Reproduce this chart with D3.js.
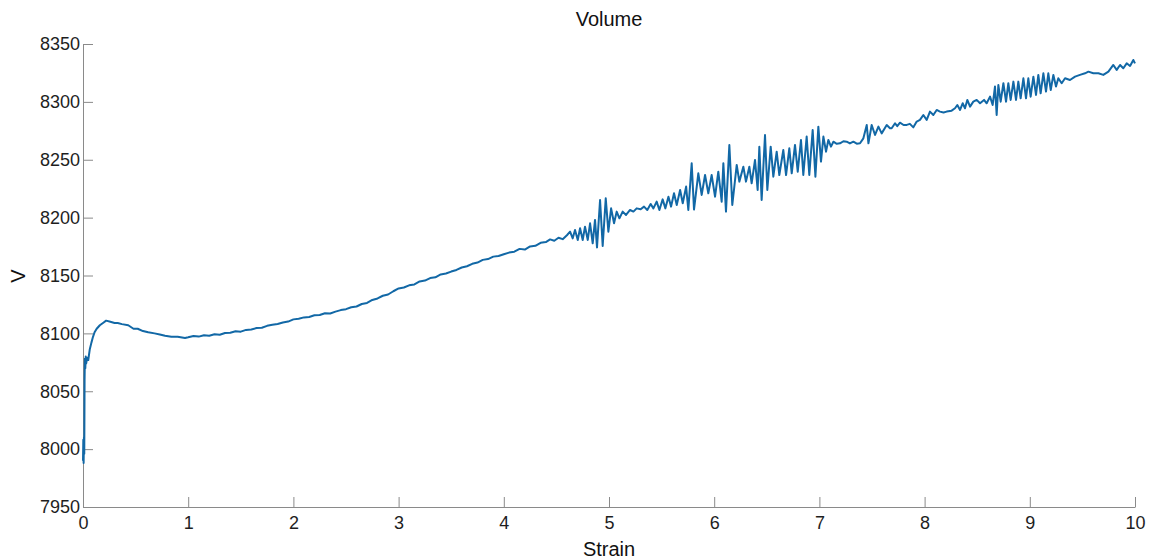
<!DOCTYPE html>
<html>
<head>
<meta charset="utf-8">
<script src="https://cdn.jsdelivr.net/npm/d3@7"></script>
<style>
  body { margin: 0; background: #fff; }
  svg { font-family: "Liberation Sans", Arial, sans-serif; }
  .axis path, .axis line { stroke: #8a8a8a; }
  .axis text { fill: #1e1e1e; font-size: 18px; }
</style>
</head>
<body>
<div id="chart"></div>
<script>

// chart size
var w = 1155;
var h = 560;

// values
var strain = [
  0, 0.003, 0.006, 0.009, 0.012, 0.015, 0.018, 0.022, 0.026, 0.03, 0.04, 0.05, 0.064, 0.08, 0.095,
  0.11, 0.13, 0.16, 0.19, 0.22, 0.26, 0.3, 0.33, 0.37, 0.43, 0.48, 0.52, 0.57, 0.62, 0.68, 0.73,
  0.78, 0.84, 0.9, 0.97,
  1.00, 1.05, 1.10, 1.15, 1.20, 1.25, 1.30, 1.35, 1.40, 1.45, 1.50, 1.55, 1.60, 1.65, 1.70, 1.75,
  1.80, 1.85, 1.90, 1.95, 2.00, 2.05, 2.10, 2.15, 2.20, 2.25, 2.30, 2.35, 2.40, 2.45, 2.50, 2.55,
  2.60, 2.65, 2.70, 2.75, 2.80, 2.85, 2.90, 2.95, 3.00, 3.05, 3.10, 3.15, 3.20, 3.25, 3.30, 3.35,
  3.40, 3.45, 3.50, 3.55, 3.60, 3.65, 3.70, 3.75, 3.80, 3.85, 3.90, 3.95, 4.00, 4.05, 4.10, 4.15,
  4.20, 4.25, 4.30, 4.35, 4.40, 4.44, 4.48, 4.52, 4.56, 4.60,
  4.63, 4.655, 4.677, 4.703, 4.725, 4.75, 4.772, 4.798, 4.82, 4.845, 4.867, 4.886, 4.915, 4.94,
  4.969, 4.994, 5.02, 5.048, 5.073, 5.099, 5.13, 5.162, 5.2, 5.232, 5.263, 5.301, 5.333, 5.364,
  5.396, 5.422, 5.453, 5.479, 5.51, 5.536, 5.565, 5.59, 5.618, 5.644, 5.676, 5.701, 5.733, 5.754,
  5.786, 5.808, 5.849, 5.881, 5.913, 5.944, 5.976, 6.008, 6.039, 6.071, 6.087, 6.112, 6.144, 6.172,
  6.214, 6.239, 6.277, 6.302, 6.334, 6.356, 6.388, 6.413, 6.429, 6.451, 6.483, 6.505, 6.537, 6.562,
  6.594, 6.619, 6.657, 6.683, 6.714, 6.737, 6.768, 6.794, 6.825, 6.847, 6.879, 6.904, 6.936, 6.962,
  6.990, 7.015, 7.038, 7.063, 7.085, 7.110, 7.133, 7.165, 7.196, 7.228, 7.259, 7.290, 7.323, 7.355,
  7.386, 7.418, 7.450, 7.466, 7.497, 7.529, 7.561, 7.592, 7.640, 7.671,
  7.687, 7.719, 7.740, 7.766, 7.800, 7.830, 7.860, 7.893, 7.925, 7.956, 7.988, 8.020, 8.051, 8.083,
  8.115, 8.146, 8.180, 8.210, 8.257, 8.289, 8.311, 8.337, 8.362, 8.384, 8.406, 8.432, 8.463, 8.495,
  8.527, 8.565, 8.590, 8.622, 8.647, 8.669, 8.685, 8.701, 8.723, 8.749, 8.774, 8.796, 8.818, 8.844,
  8.869, 8.891, 8.913, 8.939, 8.964, 8.986, 9.008, 9.034, 9.059, 9.081, 9.103, 9.129, 9.154, 9.176,
  9.199, 9.224, 9.249, 9.271, 9.303, 9.335, 9.382, 9.430, 9.477, 9.525, 9.557, 9.604, 9.652, 9.699,
  9.747, 9.794, 9.826, 9.858, 9.889, 9.921, 9.953, 9.984, 10.0
];

var volume = [
  7990, 8008, 7988, 8010, 7996, 8060, 8078, 8070, 8080, 8074, 8079, 8077, 8086, 8092, 8097,
  8101, 8104, 8107, 8109, 8111, 8110, 8109, 8109, 8108, 8107, 8104, 8104, 8102, 8101, 8100, 8099,
  8098, 8097, 8097, 8096,
  8096.6, 8097.8, 8097.2, 8098.4, 8098.0, 8099.2, 8098.8, 8100.3, 8100.6, 8101.9, 8101.5, 8103.0, 8103.4, 8104.6, 8104.9, 8106.5,
  8107.4, 8108.1, 8109.4, 8110.2, 8112.1, 8112.6, 8113.8, 8114.1, 8115.6, 8115.9, 8117.4, 8117.2, 8118.8, 8120.1, 8120.9, 8122.6,
  8123.2, 8125.4, 8126.3, 8128.9, 8130.2, 8132.5, 8133.6, 8136.4, 8138.8, 8139.6, 8141.5, 8142.3, 8144.9, 8145.6, 8147.8, 8148.4,
  8150.9, 8151.7, 8153.4, 8154.8, 8156.9, 8158.0, 8160.1, 8161.2, 8163.5, 8164.2, 8166.3, 8166.9, 8168.4, 8169.8, 8170.6, 8173.0,
  8172.4, 8175.1, 8175.6, 8178.2, 8178.9, 8181.2, 8180.0, 8182.6, 8181.4, 8184.8,
  8187.9, 8182.1, 8189.3, 8180.7, 8190.8, 8180.7, 8192.2, 8180.7, 8195.1, 8177.8, 8198.0, 8174.3, 8215.2, 8175.5,
  8216.7, 8187.9, 8208.0, 8195.1, 8205.2, 8199.4, 8205.2, 8202.3, 8206.6, 8205.2, 8208.0, 8207.2, 8209.5, 8206.6,
  8211.8, 8208.0, 8213.8, 8206.6, 8215.8, 8208.0, 8218.1, 8209.5, 8221.0, 8210.9, 8223.9, 8212.4, 8226.8, 8206.6,
  8246.9, 8207.0, 8238.3, 8219.6, 8236.8, 8221.0, 8236.8, 8218.1, 8239.7, 8213.8, 8246.9, 8205.2, 8262.8, 8210.9,
  8245.5, 8231.1, 8244.0, 8231.1, 8244.0, 8229.6, 8249.8, 8223.9, 8261.3, 8215.2, 8271.4, 8223.9, 8261.3, 8235.4,
  8257.0, 8236.8, 8258.4, 8236.8, 8259.9, 8238.3, 8262.8, 8239.7, 8267.1, 8236.8, 8270.0, 8236.8, 8275.7, 8235.4,
  8278.6, 8248.4, 8270.0, 8257.0, 8267.1, 8261.3, 8265.6, 8263.8, 8264.2, 8266.0, 8265.6, 8264.1, 8265.6, 8263.9,
  8264.2, 8268.5, 8280.0, 8264.2, 8280.0, 8271.4, 8278.6, 8272.8, 8280.0, 8277.2,
  8277.2, 8281.5, 8279.0, 8282.0, 8280.0, 8280.1, 8281.0, 8278.0, 8283.0, 8284.4, 8288.7, 8284.4, 8291.6, 8288.7,
  8293.0, 8291.6, 8290.8, 8291.6, 8292.4, 8294.5, 8297.3, 8293.0, 8298.8, 8294.5, 8301.7, 8295.9, 8300.2, 8301.7,
  8298.8, 8301.7, 8298.8, 8304.5, 8297.3, 8313.2, 8288.7, 8314.6, 8300.2, 8316.1, 8300.2, 8316.1, 8301.7, 8317.5,
  8301.7, 8317.5, 8303.1, 8320.4, 8303.1, 8320.4, 8304.5, 8321.8, 8306.0, 8323.3, 8307.4, 8324.7, 8308.9, 8324.7,
  8310.3, 8323.3, 8313.2, 8320.4, 8316.1, 8320.4, 8318.9, 8321.8, 8323.3, 8324.7, 8326.1, 8324.7, 8324.7, 8323.3,
  8326.1, 8331.9, 8327.6, 8331.9, 8329.0, 8333.3, 8331.0, 8336.2, 8333.3
];

var xTicks = [0, 1, 2, 3, 4, 5, 6, 7, 8, 9, 10];
var yTicks = [7950, 8000, 8050, 8100, 8150, 8200, 8250, 8300, 8350];

var svg = d3.select("#chart")
            .append("svg")
              .attr("width", w)
              .attr("height", h);

var xScale = d3.scaleLinear()
               .domain([0, 10])
               .range([83, 1135]);

var yScale = d3.scaleLinear()
               .domain([7950, 8350])
               .range([507, 44]);

// matlab style: ticks pointing inwards, no box
var x_axis = d3.axisBottom(xScale)
               .tickValues(xTicks)
               .tickSizeInner(-10)
               .tickSizeOuter(0)
               .tickPadding(9)
               .tickFormat(d3.format("d"));

var y_axis = d3.axisLeft(yScale)
               .tickValues(yTicks)
               .tickSizeInner(-10)
               .tickSizeOuter(0)
               .tickPadding(3)
               .tickFormat(d3.format("d"));

svg.append("g")
   .attr("class", "axis")
   .attr("transform", "translate(0, 507)")
   .call(x_axis);

svg.append("g")
   .attr("class", "axis")
   .attr("transform", "translate(83, 0)")
   .call(y_axis);

svg.selectAll(".axis text").style("font-family", null);

var line = d3.line()
             .x(function(d, i) { return xScale(strain[i]); })
             .y(function(d) { return yScale(d); });

svg.append("path")
   .datum(volume)
   .attr("fill", "none")
   .attr("stroke", "#1268a6")
   .attr("stroke-width", 2)
   .attr("stroke-linejoin", "round")
   .attr("d", line);

// labels
svg.append("text")
   .attr("x", 609)
   .attr("y", 26)
   .attr("text-anchor", "middle")
   .attr("font-size", "20px")
   .attr("fill", "#111")
   .text("Volume");

svg.append("text")
   .attr("x", 609)
   .attr("y", 556)
   .attr("text-anchor", "middle")
   .attr("font-size", "20px")
   .attr("fill", "#111")
   .text("Strain");

svg.append("text")
   .attr("transform", "translate(25, 276) rotate(-90)")
   .attr("text-anchor", "middle")
   .attr("font-size", "20px")
   .attr("fill", "#111")
   .text("V");

</script>
</body>
</html>
